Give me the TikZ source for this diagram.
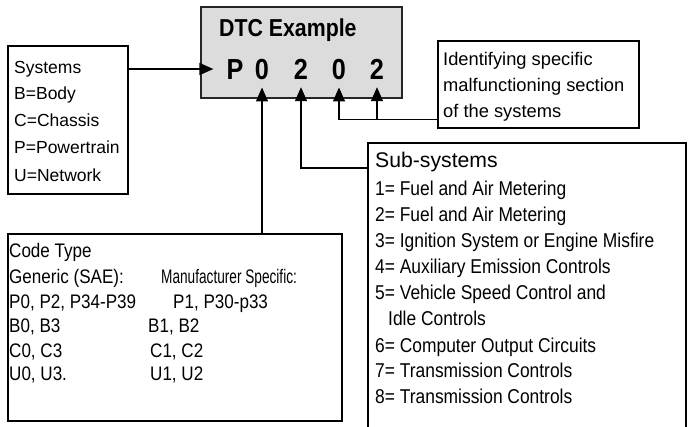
\documentclass[tikz,border=0pt]{standalone}
\usepackage{fontspec}
\setmainfont{Liberation Sans}
\newfontfamily\cond{Liberation Sans}[FakeStretch=0.87]
\usetikzlibrary{arrows.meta}
\definecolor{boxgray}{HTML}{DCDCDC}
\tikzset{
  box/.style={draw=black, line width=1.5pt, rectangle, inner sep=0pt, anchor=north west},
  txt/.style={anchor=base west, inner sep=0pt, font=\fontsize{17.5}{20}\selectfont},
  ctxt/.style={anchor=base west, inner sep=0pt, font=\cond\fontsize{20}{22}\selectfont},
  digit/.style={anchor=base, inner xsep=0pt, inner ysep=8pt, font=\cond\fontsize{29}{30}\selectfont\bfseries},
  conn/.style={line width=1.4pt, -{Triangle[length=14pt,width=12pt]}}
}
\begin{document}
\begin{tikzpicture}[x=1pt,y=-1pt]
\useasboundingbox (0,0) rectangle (690,426);
% boxes
\node[box, fill=boxgray, draw=black!85, line width=1.8pt, minimum width=201pt, minimum height=91pt] (dtc) at (200,6) {};
\node[box, minimum width=120pt, minimum height=148pt] (sys) at (7,45) {};
\node[box, minimum width=201pt, minimum height=87pt] (id) at (437,40) {};
\node[box, minimum width=334pt, minimum height=187pt] (code) at (7,233) {};
\node[box, minimum width=318pt, minimum height=300pt] (sub) at (367,142) {};
% DTC text
\node[anchor=base west, inner sep=0pt, font=\cond\fontsize{24.5}{26}\selectfont\bfseries] (title) at (219,36) {DTC Example};
\node[digit] (d1) at (235,79) {P};
\node[digit] (d2) at (262,79) {0};
\node[digit] (d3) at (301,79) {2};
\node[digit] (d4) at (339,79) {0};
\node[digit] (d5) at (377,79) {2};
% Systems text
\node[txt] (s0) at (14,73) {Systems};
\node[txt] (s1) at (14,99) {B=Body};
\node[txt] (s2) at (14,126) {C=Chassis};
\node[txt] (s3) at (14,153) {P=Powertrain};
\node[txt] (s4) at (14,181) {U=Network};
% Identifying text
\node[txt, font=\fontsize{18.3}{20}\selectfont] (i0) at (443,65) {Identifying specific};
\node[txt, font=\fontsize{18.3}{20}\selectfont] (i1) at (443,91) {malfunctioning section};
\node[txt, font=\fontsize{18.3}{20}\selectfont] (i2) at (443,117) {of the systems};
% Sub-systems text
\node[txt, font=\fontsize{21.2}{24}\selectfont] (u0) at (375,167) {Sub-systems};
\node[ctxt] (u1) at (375,195) {1= Fuel and Air Metering};
\node[ctxt] (u2) at (375,221) {2= Fuel and Air Metering};
\node[ctxt] (u3) at (375,247) {3= Ignition System or Engine Misfire};
\node[ctxt] (u4) at (375,273) {4= Auxiliary Emission Controls};
\node[ctxt] (u5) at (375,299) {5= Vehicle Speed Control and};
\node[ctxt] (u5b) at (388,325) {Idle Controls};
\node[ctxt] (u6) at (375,352) {6= Computer Output Circuits};
\node[ctxt] (u7) at (375,377) {7= Transmission Controls};
\node[ctxt] (u8) at (375,403) {8= Transmission Controls};
% Code type text
\node[ctxt, font=\cond\fontsize{19.6}{22}\selectfont] (c0) at (9,257) {Code Type};
\node[ctxt, font=\cond\fontsize{19.6}{22}\selectfont] (c1) at (9,283) {Generic (SAE):};
\node[ctxt, font=\cond\fontsize{19.6}{22}\selectfont] (c1b) at (161,283) {\scalebox{0.8}[1]{Manufacturer Specific:}};
\node[ctxt, font=\cond\fontsize{19.6}{22}\selectfont] (c2) at (9,308) {P0, P2, P34-P39};
\node[ctxt, font=\cond\fontsize{19.6}{22}\selectfont] (c2b) at (173,308) {P1, P30-p33};
\node[ctxt, font=\cond\fontsize{19.6}{22}\selectfont] (c3) at (9,332) {B0, B3};
\node[ctxt, font=\cond\fontsize{19.6}{22}\selectfont] (c3b) at (148,332) {B1, B2};
\node[ctxt, font=\cond\fontsize{19.6}{22}\selectfont] (c4) at (9,357) {C0, C3};
\node[ctxt, font=\cond\fontsize{19.6}{22}\selectfont] (c4b) at (150,357) {C1, C2};
\node[ctxt, font=\cond\fontsize{19.6}{22}\selectfont] (c5) at (9,380) {U0, U3.};
\node[ctxt, font=\cond\fontsize{19.6}{22}\selectfont] (c5b) at (150,380) {U1, U2};
% connectors
\draw[conn] (sys.east |- d1.center) -- ([xshift=-13pt]d1.west);
\draw[conn] (code.north -| d2.south) -- (d2.south);
\draw[conn] ([yshift=-26pt]sub.north west) -| (d3.south);
\coordinate (jn) at ([yshift=9pt]id.south west);
\draw[conn] (jn) -| (d4.south);
\draw[conn] (d5.south |- jn) -- (d5.south);
\end{tikzpicture}
\end{document}
